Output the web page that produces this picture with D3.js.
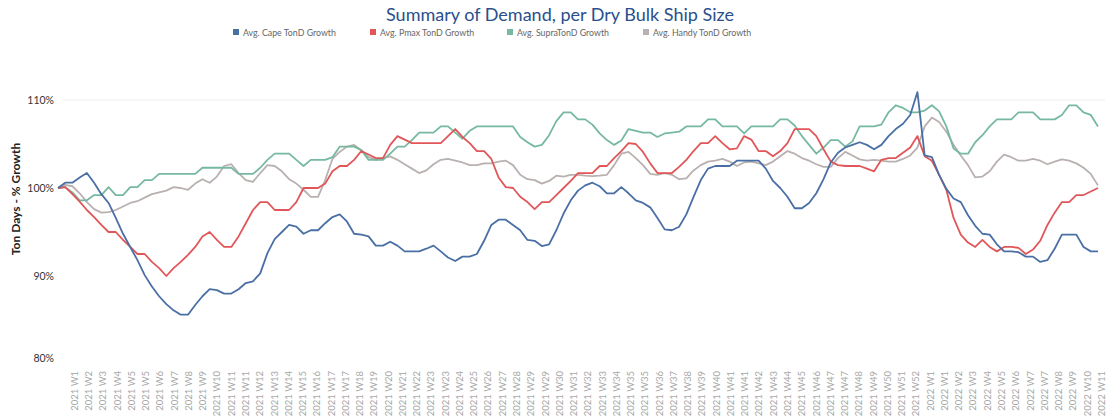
<!DOCTYPE html>
<html>
<head>
<meta charset="utf-8">
<script src="https://cdn.jsdelivr.net/npm/d3@7"></script>
<style>
  body { margin: 0; background: #fff; }
  text { font-family: Lato, "Open Sans", sans-serif; }
</style>
</head>
<body>
<div id="main"></div>
<script>
// series names + colours (legend order)
var seriesNames = ["Avg. Cape TonD Growth", "Avg. Pmax TonD Growth", "Avg. SupraTonD Growth", "Avg. Handy TonD Growth"];
var seriesColors = ["#4a6fa5", "#e15759", "#76b9a0", "#b9b1af"];

// x-axis labels, one every ~6 days
var weekLabels = ["2021 W1","2021 W2","2021 W3","2021 W4","2021 W5","2021 W5","2021 W6","2021 W7","2021 W8","2021 W9",
  "2021 W10","2021 W11","2021 W11","2021 W12","2021 W13","2021 W14","2021 W15","2021 W16","2021 W17","2021 W17",
  "2021 W18","2021 W19","2021 W20","2021 W21","2021 W22","2021 W23","2021 W23","2021 W24","2021 W25","2021 W26",
  "2021 W27","2021 W28","2021 W29","2021 W29","2021 W30","2021 W31","2021 W32","2021 W33","2021 W34","2021 W35",
  "2021 W35","2021 W36","2021 W37","2021 W38","2021 W39","2021 W40","2021 W41","2021 W41","2021 W42","2021 W43",
  "2021 W44","2021 W45","2021 W46","2021 W47","2021 W47","2021 W48","2021 W49","2021 W50","2021 W51","2021 W52",
  "2022 W1","2022 W1","2022 W2","2022 W3","2022 W4","2022 W5","2022 W6","2022 W7","2022 W7","2022 W8",
  "2022 W9","2022 W10","2022 W11"];

var yTicks = [80, 90, 100, 110];

// values (% of start), sampled every 3 days
var cape = [100.0,100.6,100.6,101.2,101.7,100.6,99.3,98.3,96.6,94.8,
  93.3,91.8,90.1,88.8,87.7,86.8,86.1,85.6,85.6,86.7,
  87.7,88.5,88.4,88.0,88.0,88.5,89.2,89.4,90.3,92.6,
  94.2,95.0,95.8,95.6,94.8,95.2,95.2,96.0,96.7,97.0,
  96.2,94.8,94.7,94.5,93.45,93.45,93.9,93.45,92.8,92.8,
  92.8,93.1,93.45,92.8,92.1,91.7,92.2,92.2,92.5,94.0,
  95.8,96.4,96.4,95.8,95.2,94.1,94.0,93.4,93.6,95.2,
  97.1,98.6,99.7,100.3,100.6,100.2,99.4,99.4,100.1,99.4,
  98.6,98.3,97.8,96.6,95.3,95.2,95.6,97.0,99.0,100.9,
  102.2,102.5,102.5,102.5,103.1,103.1,103.1,103.1,102.2,100.8,
  100.0,99.0,97.7,97.7,98.3,99.4,101.0,102.9,104.0,104.6,
  104.9,105.2,104.9,104.4,104.9,105.9,106.7,107.3,108.3,110.9,
  103.7,103.5,101.5,99.9,98.8,98.4,96.9,95.7,94.8,94.7,
  93.6,92.8,92.8,92.7,92.2,92.2,91.6,91.8,93.1,94.7,
  94.7,94.7,93.3,92.8,92.8];

var pmax = [100.0,100.1,99.3,98.45,97.5,96.7,95.8,95.0,95.0,94.1,
  93.3,92.5,92.5,91.6,90.9,90.0,90.9,91.6,92.4,93.3,
  94.5,95.0,94.1,93.3,93.3,94.5,96.0,97.5,98.4,98.4,
  97.5,97.5,97.5,98.4,100.0,100.0,100.0,100.5,101.9,102.5,
  102.5,103.2,104.2,103.8,103.4,103.4,104.9,105.9,105.5,105.1,
  105.1,105.1,105.1,105.1,105.9,106.7,105.8,105.1,104.2,104.2,
  103.3,101.2,100.1,100.0,99.0,98.4,97.6,98.4,98.4,99.2,
  100.0,100.8,101.7,101.7,101.7,102.5,102.5,103.4,104.2,105.1,
  105.0,104.1,102.8,101.7,101.7,101.7,102.4,103.2,104.2,105.1,
  105.1,105.9,105.1,104.4,104.5,105.9,105.5,104.2,104.2,103.6,
  104.2,105.1,106.7,106.7,106.7,105.9,104.4,103.0,102.6,102.5,
  102.5,102.5,102.2,101.9,103.2,103.4,103.4,104.0,104.6,105.9,
  103.6,103.1,101.5,99.8,96.6,94.7,93.8,93.3,94.1,93.3,
  92.8,93.3,93.3,93.2,92.5,93.0,94.0,95.8,97.2,98.4,
  98.4,99.2,99.2,99.6,100.0];

var supra = [100.0,100.1,99.5,98.6,98.6,99.2,99.2,100.1,99.2,99.2,
  100.1,100.1,100.9,100.9,101.6,101.6,101.6,101.6,101.6,101.6,
  102.3,102.3,102.3,102.3,102.3,101.6,101.6,101.6,102.3,103.2,
  103.9,103.9,103.9,103.2,102.5,103.2,103.2,103.2,103.5,104.7,
  104.7,104.7,104.3,103.2,103.2,103.2,103.9,104.7,104.7,105.45,
  106.3,106.3,106.3,107.0,107.0,106.3,105.6,106.5,107.0,107.0,
  107.0,107.0,107.0,107.0,105.8,105.2,104.7,104.9,106.0,107.6,
  108.6,108.6,107.8,107.8,107.2,106.2,105.45,104.9,105.4,106.7,
  106.5,106.3,106.3,105.8,106.2,106.3,106.4,107.0,107.0,107.0,
  107.8,107.8,107.0,107.0,107.0,106.2,107.0,107.0,107.0,107.0,
  107.8,107.8,107.1,105.9,104.9,103.9,104.6,105.45,105.45,104.7,
  105.3,107.0,107.0,107.0,107.2,108.6,109.4,109.1,108.6,108.6,
  108.8,109.4,108.7,107.0,104.5,103.9,103.9,105.2,106.0,107.0,
  107.8,107.8,107.8,108.6,108.6,108.6,107.8,107.8,107.8,108.3,
  109.4,109.4,108.6,108.3,107.0];

var handy = [100.0,100.35,100.2,99.4,98.4,97.6,97.2,97.25,97.5,97.9,
  98.3,98.5,98.9,99.3,99.5,99.7,100.1,100.0,99.8,100.5,
  101.0,100.6,101.3,102.5,102.7,101.7,100.9,100.7,101.7,102.6,
  102.5,101.9,101.0,100.5,99.8,99.0,99.0,100.9,103.3,104.1,
  104.7,104.9,104.3,103.5,103.2,103.4,103.6,103.2,102.7,102.2,
  101.7,102.0,102.7,103.2,103.3,103.1,102.9,102.6,102.6,102.8,
  102.8,103.0,103.1,102.6,101.5,101.0,100.9,100.5,100.8,101.4,
  101.3,101.5,101.5,101.4,101.35,101.4,101.5,102.6,103.9,104.1,
  103.4,102.6,101.6,101.5,101.7,101.5,101.0,101.1,102.0,102.6,
  103.0,103.1,103.3,103.0,102.5,102.9,103.0,102.8,102.6,103.0,
  103.6,104.2,103.9,103.4,103.1,102.7,102.4,102.4,103.4,104.1,
  103.7,103.25,103.1,103.2,103.1,103.0,103.0,103.3,103.7,104.6,
  107.0,108.0,107.5,106.4,104.9,103.7,102.6,101.2,101.3,101.9,
  103.0,103.8,103.5,103.1,103.1,103.3,103.1,102.7,103.0,103.25,
  103.1,102.8,102.3,101.6,100.3];

var allSeries = [cape, pmax, supra, handy];

var W = 1120, H = 420;
var svg = d3.select("#main").append("svg")
  .attr("width", W)
  .attr("height", H);

var x = d3.scaleLinear().domain([0, cape.length - 1]).range([58, 1098]);
var y = d3.scaleLinear().domain([80, 110]).range([364, 100]);
var xLab = d3.scalePoint().domain(d3.range(weekLabels.length)).range([74, 1101]);

// title
svg.append("text")
  .attr("x", 560).attr("y", 21)
  .attr("text-anchor", "middle")
  .attr("font-size", 18)
  .attr("fill", "#2a4f8c")
  .text("Summary of Demand, per Dry Bulk Ship Size");

// legend
var legendX = [233, 370, 507, 643];
var leg = svg.selectAll(".leg").data(seriesNames).enter().append("g")
  .attr("transform", function(d, i) { return "translate(" + legendX[i] + ",33)"; });
leg.append("rect")
  .attr("x", 0).attr("y", -4).attr("width", 6).attr("height", 6)
  .attr("fill", function(d, i) { return seriesColors[i]; });
leg.append("text")
  .attr("x", 10).attr("y", 2.5)
  .attr("font-size", 8.8)
  .attr("fill", "#666")
  .text(function(d) { return d; });

// gridline at top tick
svg.append("line")
  .attr("x1", 63).attr("x2", 1105)
  .attr("y1", y(110)).attr("y2", y(110))
  .attr("stroke", "#eeeeee");

// y axis
var yAxis = svg.append("g")
  .attr("transform", "translate(56,0)")
  .call(d3.axisLeft(y).tickValues(yTicks).tickSize(0).tickPadding(2).tickFormat(function(d) { return d + "%"; }));
yAxis.select(".domain").remove();
yAxis.selectAll("text")
  .attr("font-size", 10.5)
  .attr("fill", "#333")
  .style("font-family", "Lato, 'Open Sans', sans-serif")
  .attr("dy", function(d) { return d === 80 ? "-0.25em" : "0.32em"; });

svg.append("text")
  .attr("transform", "translate(20,199) rotate(-90)")
  .attr("text-anchor", "middle")
  .attr("font-size", 12)
  .attr("font-weight", "bold")
  .attr("fill", "#222")
  .text("Ton Days - % Growth");

// x axis labels
var xAxis = svg.append("g")
  .attr("transform", "translate(0,371)")
  .call(d3.axisBottom(xLab).tickSize(0).tickFormat(function(i) { return weekLabels[i]; }));
xAxis.select(".domain").remove();
xAxis.selectAll("text")
  .attr("transform", "rotate(-90)")
  .attr("text-anchor", "end")
  .attr("x", 0).attr("y", 0).attr("dy", "0.35em")
  .attr("font-size", 9.5)
  .attr("fill", "#a8a8a8")
  .style("font-family", "Lato, 'Open Sans', sans-serif");

// lines
var line = d3.line()
  .x(function(d, i) { return x(i); })
  .y(function(d) { return y(d); });

[3, 2, 1, 0].forEach(function(s) {
  svg.append("path")
    .attr("d", line(allSeries[s]))
    .attr("fill", "none")
    .attr("stroke", seriesColors[s])
    .attr("stroke-width", 1.8)
    .attr("stroke-linejoin", "round");
});
</script>
</body>
</html>
